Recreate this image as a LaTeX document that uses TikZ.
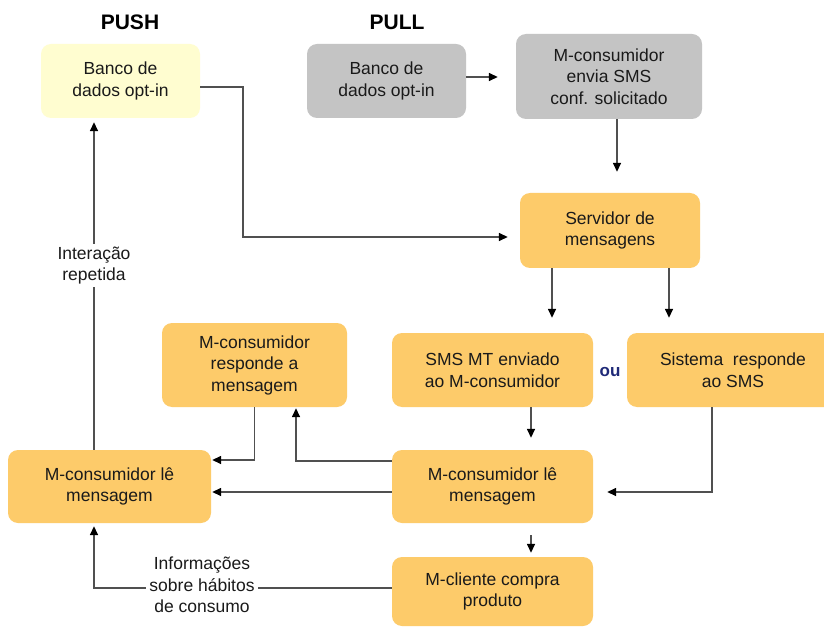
\documentclass[tikz,border=0pt]{standalone}
\usepackage{fontspec}
\setmainfont{Liberation Sans}
\usetikzlibrary{arrows.meta,calc}
\definecolor{boxorange}{HTML}{FDCB6A}
\definecolor{boxyellow}{HTML}{FFFDD0}
\definecolor{boxgray}{HTML}{C4C4C4}
\definecolor{linegray}{HTML}{505050}
\definecolor{oublue}{HTML}{1F2A78}
\definecolor{txt}{HTML}{1A1A1A}
\tikzset{
  x=1pt, y=-1pt,
  basebox/.style={rectangle, rounded corners=10pt, draw=none, align=center,
    text=txt, inner sep=2pt, font=\fontsize{17.5}{21.5}\selectfont},
  obox/.style={basebox, fill=boxorange},
  ybox/.style={basebox, fill=boxyellow},
  gbox/.style={basebox, fill=boxgray},
  lbl/.style={align=center, text=txt, fill=white, inner sep=3pt,
    font=\fontsize{17.5}{21.5}\selectfont},
  ttl/.style={text=black, font=\fontsize{21}{24}\selectfont\bfseries},
  arr/.style={draw=linegray, line width=1.5pt,
    -{Triangle[length=9pt,width=8pt,color=black]}},
}
\begin{document}
\begin{tikzpicture}
\clip (0,0) rectangle (824,628);
\fill[white] (0,0) rectangle (824,628);

% titles
\node[ttl] (tpush) at (130,22) {PUSH};
\node[ttl] (tpull) at (397,22) {PULL};

% boxes
\node[ybox, minimum width=159pt, minimum height=74pt] (pushdb) at (120.5,81) {Banco de\\dados opt-in};
\node[gbox, minimum width=159pt, minimum height=74pt] (pulldb) at (386.5,81) {Banco de\\dados opt-in};
\node[gbox, minimum width=186pt, minimum height=85pt] (envia) at (609,76.5) {M-consumidor\\envia SMS\\conf. solicitado};
\node[obox, minimum width=180pt, minimum height=75pt] (serv) at (610,230.5) {Servidor de\\mensagens};
\node[obox, minimum width=201pt, minimum height=74pt] (sms) at (492.5,370) {SMS MT enviado\\ao M-consumidor};
\node[obox, minimum width=212pt, minimum height=74pt] (sist) at (733,370) {Sistema\ \ responde\\ao SMS};
\node[obox, minimum width=185pt, minimum height=84pt] (resp) at (254.5,365) {M-consumidor\\responde a\\mensagem};
\node[obox, minimum width=201pt, minimum height=73pt] (lemid) at (492.5,486.5) {M-consumidor lê\\mensagem};
\node[obox, minimum width=203pt, minimum height=73pt] (leleft) at (109.5,486.5) {M-consumidor lê\\mensagem};
\node[obox, minimum width=201pt, minimum height=69pt] (cliente) at (492.5,591.5) {M-cliente compra\\produto};

\node[text=oublue, font=\fontsize{17}{20}\selectfont\bfseries] (ou) at (610,372) {ou};

% connectors
\draw[arr, shorten >=12pt] ([yshift=-6pt]pushdb.east) -- ++(43,0) |- ([yshift=-6.5pt]serv.west);
\draw[arr, shorten >=18pt] ([yshift=4pt]pulldb.east) -- ([yshift=4pt]pulldb.east -| envia.west);
\draw[arr, shorten >=21pt] ([xshift=8pt]envia.south) -- ([xshift=8pt]envia.south |- serv.north);
\draw[arr, shorten >=15pt] ([xshift=-58pt]serv.south) -- ([xshift=-58pt]serv.south |- sms.north);
\draw[arr, shorten >=15pt] ([xshift=59pt]serv.south) -- ([xshift=59pt]serv.south |- sist.north);
\draw[arr, shorten >=12pt] ([xshift=38.5pt]sms.south) -- ([xshift=38.5pt]sms.south |- lemid.north);
\draw[arr, shorten >=14pt] ([xshift=-21pt]sist.south) |- ([yshift=-5.5pt]lemid.east);
\draw[arr, shorten <=12pt, shorten >=4pt] ([xshift=38.5pt]lemid.south) -- ([xshift=38.5pt]lemid.south |- cliente.north);
\draw[arr, shorten >=1pt] ([yshift=25.5pt]lemid.west) -| ([xshift=41.5pt]resp.south);
\draw[arr, shorten >=1pt] (resp.south) |- ([yshift=26.5pt]leleft.east);
\draw[arr, shorten >=1pt] ([yshift=-5.5pt]lemid.west) -- ([yshift=-5.5pt]leleft.east);
\draw[arr, shorten >=3pt] ([yshift=3.5pt]cliente.west) -| ([xshift=-15.5pt]leleft.south);
\draw[arr, shorten >=4pt] ([xshift=-15.5pt]leleft.north) -- ([xshift=-26.5pt]pushdb.south);

% labels on connectors
\node[lbl] (info) at (202,585) {Informações\\sobre hábitos\\de consumo};
\node[lbl] (inter) at (94,265.5) {Interação\\repetida};
\end{tikzpicture}
\end{document}
